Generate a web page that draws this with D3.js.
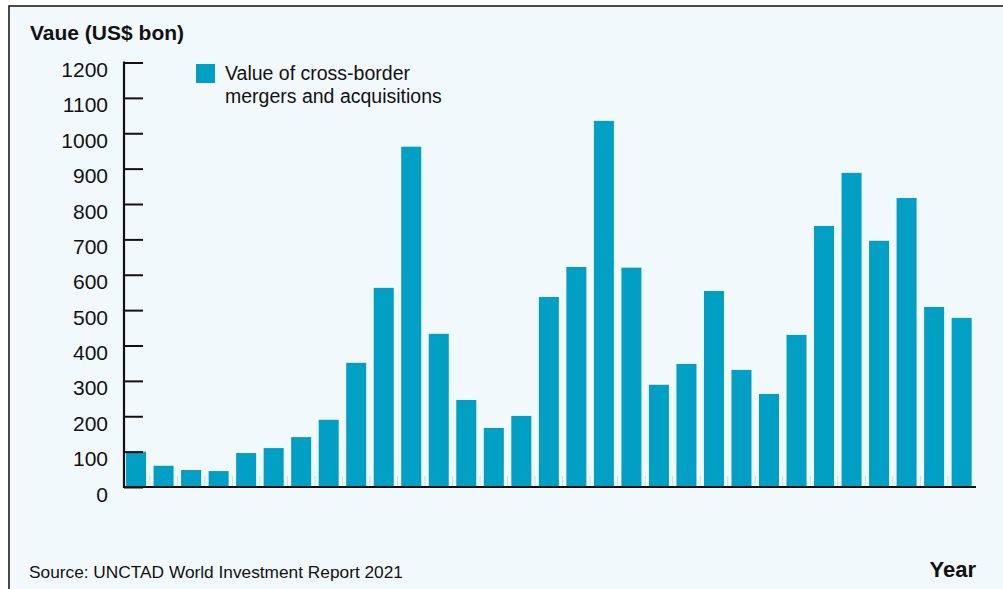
<!DOCTYPE html>
<html><head><meta charset="utf-8">
<script src="https://cdn.jsdelivr.net/npm/d3@7"></script>
<style>
html,body{margin:0;padding:0;background:#fff;}
svg{display:block;font-family:"Liberation Sans",Arial,Helvetica,sans-serif;}
</style></head>
<body>
<svg id="chart" width="1003" height="589"></svg>
<script>
const years = d3.range(1990, 2021).map(String);
const values = [100, 60, 48, 45, 96, 110, 141, 190, 351, 563, 962, 433, 246, 167, 201, 537, 622, 1035, 620, 289, 348, 554, 331, 263, 430, 738, 888, 696, 817, 509, 478];
const yTicks = [0, 100, 200, 300, 400, 500, 600, 700, 800, 900, 1000, 1100, 1200];
const seriesName = ["Value of cross-border", "mergers and acquisitions"];
const yTitle = "Vaue (US$ bon)";
const xTitle = "Year";
const source = "Source: UNCTAD World Investment Report 2021";

const svg = d3.select("#chart");
const barColor = "#009fc3";

// panel
svg.append("rect").attr("x", 9).attr("y", 6).attr("width", 1010).attr("height", 600)
  .attr("fill", "#f2f9fc").attr("stroke", "#111").attr("stroke-width", 1.5);

const y = d3.scaleLinear().domain([0, 1200]).range([487, 62.5]);
const x = d3.scaleBand().domain(years).range([122.3, 975.4]).paddingInner(0.273).paddingOuter(0.1365);

// bars
svg.append("g").selectAll("rect").data(values).join("rect")
  .attr("x", (d, i) => x(years[i]))
  .attr("width", x.bandwidth())
  .attr("y", d => y(d))
  .attr("height", d => y(0) - y(d))
  .attr("fill", barColor);

// faint separators between bars
const step = x.step();
svg.append("g").selectAll("line").data(years.slice(1)).join("line")
  .attr("x1", d => x(d) - (step - x.bandwidth()) / 2)
  .attr("x2", d => x(d) - (step - x.bandwidth()) / 2)
  .attr("y1", 476).attr("y2", 486)
  .attr("stroke", "#b8e2ee").attr("stroke-width", 1);

// y axis
const yAxis = d3.axisRight(y).tickValues(yTicks).tickSize(19).tickFormat("");
const gy = svg.append("g").attr("transform", "translate(124,0)").call(yAxis);
gy.select(".domain").remove();
gy.selectAll(".tick line").attr("stroke", "#111").attr("stroke-width", 2);
svg.append("line").attr("x1", 124).attr("x2", 124).attr("y1", 61.5).attr("y2", 488)
  .attr("stroke", "#111").attr("stroke-width", 2.2);

// y labels (sit just below their tick, as in the original)
svg.append("g").selectAll("text").data(yTicks).join("text")
  .attr("x", 108).attr("y", d => y(d) + 7).attr("dy", "0.36em")
  .attr("text-anchor", "end").attr("font-size", 21).attr("fill", "#111")
  .text(d => d);

// baseline
svg.append("line").attr("x1", 123).attr("x2", 976).attr("y1", 487).attr("y2", 487)
  .attr("stroke", "#111").attr("stroke-width", 2);

// titles
svg.append("text").attr("x", 30).attr("y", 40).attr("font-size", 21).attr("font-weight", "bold")
  .attr("fill", "#111").text(yTitle);
svg.append("text").attr("x", 976).attr("y", 577).attr("text-anchor", "end").attr("font-size", 22)
  .attr("font-weight", "bold").attr("fill", "#111").text(xTitle);
svg.append("text").attr("x", 29).attr("y", 578).attr("font-size", 17.3).attr("fill", "#111").text(source);

// legend
svg.append("rect").attr("x", 196).attr("y", 64).attr("width", 19).attr("height", 19).attr("fill", barColor);
svg.append("text").attr("x", 225).attr("y", 80).attr("font-size", 19.5).attr("fill", "#111")
  .selectAll("tspan").data(seriesName).join("tspan")
  .attr("x", 225).attr("dy", (d, i) => i ? 23 : 0).text(d => d);
</script>
</body></html>
